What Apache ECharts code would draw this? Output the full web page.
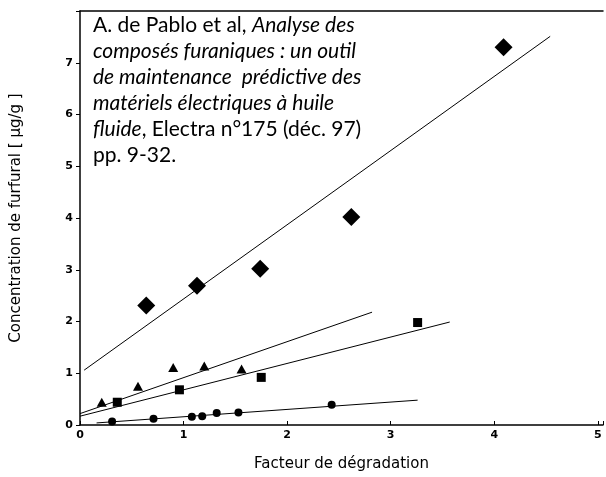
<!DOCTYPE html>
<html>
<head>
<meta charset="utf-8">
<script src="https://cdn.jsdelivr.net/npm/echarts@6/dist/echarts.min.js"></script>
<style>html,body{margin:0;padding:0;background:#fff}#c{width:606px;height:477px}</style>
</head>
<body>
<div id="c"></div>
<script>
// Data
const diamondX = [0.64, 1.13, 1.74, 2.62, 4.09];
const diamondY = [2.31, 2.69, 3.02, 4.02, 7.30];
const triangleX = [0.21, 0.56, 0.90, 1.20, 1.56];
const triangleY = [0.44, 0.75, 1.11, 1.14, 1.08];
const squareX = [0.36, 0.96, 1.75, 3.26];
const squareY = [0.44, 0.68, 0.92, 1.98];
const circleX = [0.31, 0.71, 1.08, 1.18, 1.32, 1.53, 2.43];
const circleY = [0.07, 0.12, 0.16, 0.17, 0.23, 0.24, 0.39];
// Regression lines: [x start, x end], [y start, y end]
const diamondFitX = [0.04, 4.54];
const diamondFitY = [1.06, 7.51];
const triangleFitX = [0.00, 2.82];
const triangleFitY = [0.22, 2.18];
const squareFitX = [0.00, 3.57];
const squareFitY = [0.17, 1.99];
const circleFitX = [0.16, 3.26];
const circleFitY = [0.04, 0.48];
const xTicks = [0, 1, 2, 3, 4, 5];
const yTicks = [0, 1, 2, 3, 4, 5, 6, 7];

const zip = (a, b) => a.map((v, i) => [v, b[i]]);

const chart = echarts.init(document.getElementById('c'), null, {renderer: 'canvas'});
const lineSeries = (xs, ys) => ({
  type: 'line', data: zip(xs, ys), symbol: 'none', silent: true,
  lineStyle: {color: '#000', width: 1}, z: 2
});
const scatter = (xs, ys, symbol, size) => ({
  type: 'scatter', data: zip(xs, ys), symbol: symbol, symbolSize: size,
  itemStyle: {color: '#000', opacity: 1}, z: 3
});
chart.setOption({
  animation: false,
  backgroundColor: '#fff',
  title: {
    left: 88, top: 7,
    text: '{n|A. de Pablo et al, }{i|Analyse des}\n{i|composés furaniques : un outil}\n{i|de maintenance  prédictive des}\n{i|matériels électriques à huile}\n{i|fluide}{n|, Electra n°175 (déc. 97)}\n{n|pp. 9-32.}',
    textStyle: {
      fontWeight: 'normal',
      rich: {
        n: {fontFamily: 'Lato', fontSize: 21, fontWeight: 'normal', color: '#000', lineHeight: 26},
        i: {fontFamily: 'Lato', fontSize: 21, fontWeight: 'normal', fontStyle: 'italic', color: '#000', lineHeight: 26}
      }
    }
  },
  grid: {left: 80, right: -1, top: 11, bottom: 51.5, show: false},
  xAxis: [{
    type: 'value', min: 0, max: 5.05, interval: 1,
    name: 'Facteur de dégradation', nameLocation: 'middle', nameGap: 32,
    nameTextStyle: {fontFamily: 'DejaVu Sans', fontSize: 15, color: '#000'},
    axisLine: {lineStyle: {color: '#000', width: 1.5}},
    axisTick: {inside: true, length: 4, lineStyle: {color: '#000'}},
    axisLabel: {
      fontFamily: 'DejaVu Sans', fontWeight: 'bold', fontSize: 11, color: '#000', margin: 5,
      formatter: v => xTicks.includes(v) ? String(v) : ''
    },
    splitLine: {show: false}
  }, {
    type: 'value', position: 'top', min: 0, max: 5.05,
    axisLine: {lineStyle: {color: '#000', width: 1.5}},
    axisTick: {show: false}, axisLabel: {show: false}, splitLine: {show: false}
  }],
  yAxis: {
    type: 'value', min: 0, max: 8, interval: 1,
    name: 'Concentration de furfural [ µg/g ]', nameLocation: 'middle', nameGap: 56,
    nameTextStyle: {fontFamily: 'DejaVu Sans', fontSize: 15, color: '#000'},
    axisLine: {lineStyle: {color: '#000', width: 1.5}},
    axisTick: {inside: false, length: 4, lineStyle: {color: '#000'}},
    axisLabel: {
      fontFamily: 'DejaVu Sans', fontWeight: 'bold', fontSize: 11, color: '#000', margin: 7,
      formatter: v => yTicks.includes(v) ? String(v) : ''
    },
    splitLine: {show: false}
  },
  series: [
    lineSeries(diamondFitX, diamondFitY),
    lineSeries(triangleFitX, triangleFitY),
    lineSeries(squareFitX, squareFitY),
    lineSeries(circleFitX, circleFitY),
    scatter(diamondX, diamondY, 'diamond', 18),
    scatter(triangleX, triangleY, 'triangle', [10, 9]),
    scatter(squareX, squareY, 'rect', 9),
    scatter(circleX, circleY, 'circle', 8)
  ]
});
</script>
</body>
</html>
